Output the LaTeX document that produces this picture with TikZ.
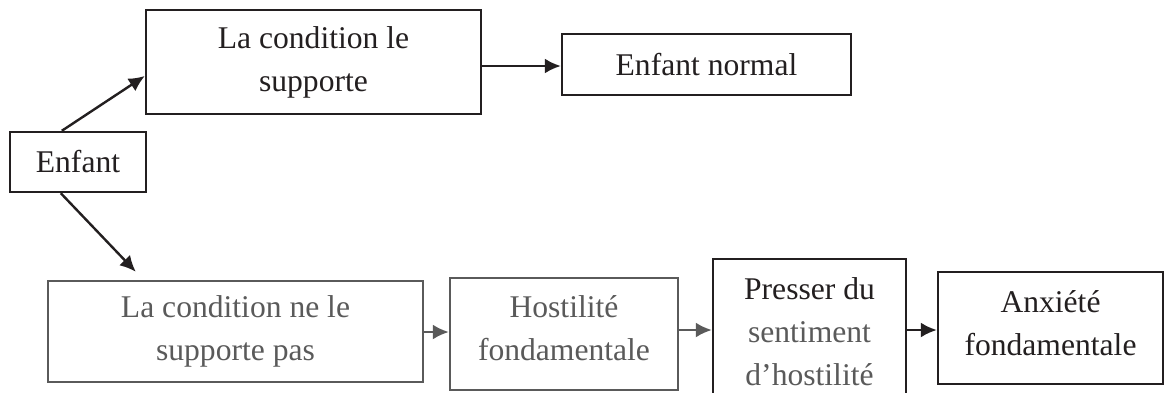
\documentclass[tikz,border=0pt]{standalone}
\usepackage{fontspec}
\setmainfont{Liberation Serif}
\usetikzlibrary{arrows.meta,calc}
\definecolor{ink}{HTML}{231F20}
\definecolor{grayink}{HTML}{5A5A5A}
\tikzset{
  box/.style={draw=ink, line width=1.2pt, inner sep=0pt, align=center, text=ink},
  gbox/.style={box, draw=grayink, text=grayink},
  txt/.style={inner sep=0pt, align=center, text=ink},
  arr/.style={draw=ink, line width=1.2pt, -{Latex[length=8pt,width=7.5pt]}},
  garr/.style={arr, draw=grayink, -{Latex[length=8pt,width=7.5pt,color=grayink]}},
}
\begin{document}
\begin{tikzpicture}[x=0.5pt,y=-0.5pt, font=\fontsize{15.8}{21.5}\selectfont]
\clip (0,0) rectangle (1165,392);
\fill[white] (0,0) rectangle (1165,392);
% top row
\node[box, minimum width=167.5pt, minimum height=52pt] (A) at (313.5,62) {La condition le\\supporte};
\node[box, minimum width=144.5pt, minimum height=30.5pt] (B) at (706.5,64.5) {Enfant normal};
\node[box, minimum width=68pt, minimum height=30pt] (C) at (78,162) {Enfant};
% bottom row
\node[gbox, minimum width=187.5pt, minimum height=50.5pt] (D) at (235.5,331.5) {La condition ne le\\supporte pas};
\node[gbox, minimum width=114pt, minimum height=56pt] (E) at (564,334) {};
\node[txt, text=grayink] (Et) at (564,328.5) {Hostilité\\fondamentale};
\node[box, minimum width=96.5pt, minimum height=75.5pt] (F) at (809.5,334.5) {};
\node[txt] (Ft) at (809.5,331.5) {Presser du\\{\color{grayink}sentiment}\\{\color{grayink}d’hostilité}};
\node[box, minimum width=112.5pt, minimum height=56pt] (G) at (1050.5,328) {};
\node[txt] (Gt) at (1050.5,323) {Anxiété\\fondamentale};
% connectors
\draw[arr] ([xshift=26.5pt]C.north west) -- ([yshift=-7pt]A.west);
\draw[arr] ($(A.east)+(0,4)$) -- ($(A.east -| B.west)+(0,4)$);
\draw[arr] ([xshift=26pt]C.south west) -- ([xshift=44.5pt,yshift=4pt]D.north west);
\draw[garr] ($(D.east)+(0,0.5)$) -- ($(D.east -| E.west)+(0,0.5)$);
\draw[garr] ($(E.east)+(0,-4)$) -- ($(E.east -| F.west)+(0,-4)$);
\draw[arr] ($(F.east)+(0,-4.5)$) -- ($(F.east -| G.west)+(0,-4.5)$);
\end{tikzpicture}
\end{document}
